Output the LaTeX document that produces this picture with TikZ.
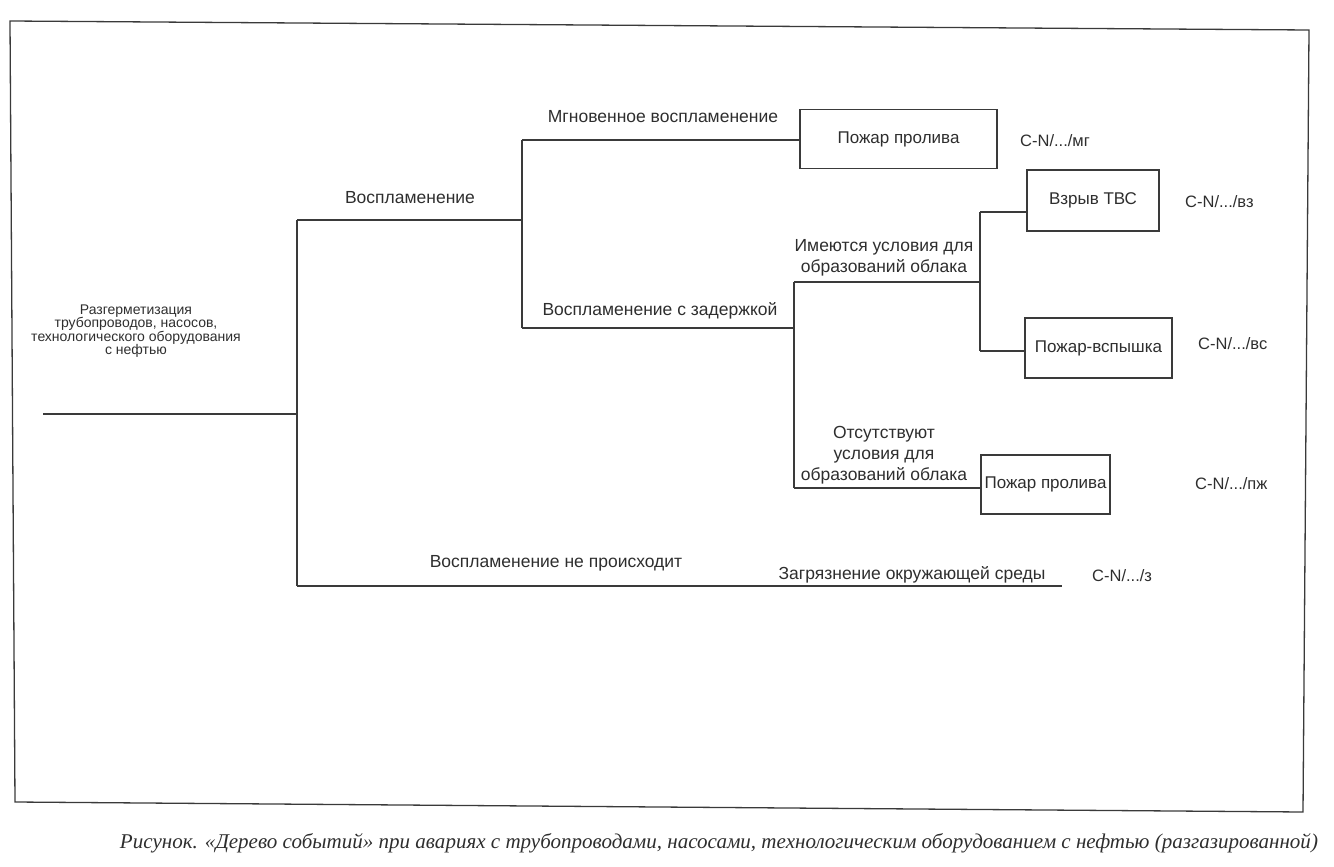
\documentclass[tikz,border=0pt]{standalone}
\usepackage{fontspec}
\setmainfont{Liberation Serif}
\newfontfamily\arialf{Liberation Sans}
\definecolor{ink}{HTML}{3A3A3A}
\definecolor{txt}{HTML}{2E2E2E}
\begin{document}
\begin{tikzpicture}[x=1pt,y=-1pt,
  line/.style={draw=ink,line width=1.2pt},
  box/.style={draw=ink,line width=1.4pt,inner sep=0pt,font=\arialf\fontsize{17}{20}\selectfont,text=txt},
  lbl/.style={inner sep=0pt,font=\arialf\fontsize{17.5}{21}\selectfont,text=txt,align=center},
  code/.style={inner sep=0pt,font=\arialf\fontsize{16.5}{19}\selectfont,text=txt,anchor=west},
  small/.style={inner sep=0pt,font=\arialf\fontsize{14}{13.5}\selectfont,text=txt,align=center}]
\useasboundingbox (0,0) rectangle (1334,867);
% frame
\draw[ink,line width=1.3pt] (10,21) -- (1309,30) -- (1303,812) -- (15,802) -- cycle;
% junction coordinates
\coordinate (r) at (43,414);
\coordinate (a) at (297,414);
\coordinate (a1) at (297,220);
\coordinate (a2) at (297,586);
\coordinate (b) at (522,220);
\coordinate (b1) at (522,140);
\coordinate (b2) at (522,328);
\coordinate (c) at (794,328);
\coordinate (c1) at (794,282);
\coordinate (c2) at (794,488);
\coordinate (d) at (980,282);
\coordinate (d1) at (980,212);
\coordinate (d2) at (980,351);
\coordinate (e) at (1062,586);
% boxes
\node[box,minimum width=197pt,minimum height=59pt] (f1) at (898.5,139) {Пожар пролива};
\node[box,minimum width=132pt,minimum height=61pt] (f2) at (1093,200.5) {Взрыв ТВС};
\node[box,minimum width=147pt,minimum height=60pt] (f3) at (1098.5,348) {Пожар-вспышка};
\node[box,minimum width=129pt,minimum height=59pt] (f4) at (1045.5,484.5) {Пожар пролива};
% connectors
\draw[line] (r) -- (a);
\draw[line] (a1) -- (a2);
\draw[line] (a1) -- (b);
\draw[line] (b1) -- (b2);
\draw[line] (b1) -- (b1 -| f1.west);
\draw[line] (b2) -- (c);
\draw[line] (c1) -- (c2);
\draw[line] (c1) -- (d);
\draw[line] (d1) -- (d2);
\draw[line] (d1) -- (d1 -| f2.west);
\draw[line] (d2) -- (d2 -| f3.west);
\draw[line] (c2) -- (c2 -| f4.west);
\draw[line] (a2) -- (e);
% labels
\node[small] (root) at (136,331) {Разгерметизация\\трубопроводов, насосов,\\технологического оборудования\\с нефтью};
\node[lbl] (l1) at (410,198) {Воспламенение};
\node[lbl] (l2) at (663,117) {Мгновенное воспламенение};
\node[lbl] (l3) at (660,311) {Воспламенение с задержкой};
\node[lbl] (l4) at (884,258) {Имеются условия для\\образований облака};
\node[lbl] (l5) at (884,455) {Отсутствуют\\условия для\\образований облака};
\node[lbl] (l6) at (556,563) {Воспламенение не происходит};
\node[lbl] (l7) at (912,575) {Загрязнение окружающей среды};
% codes
\node[code] (k1) at (1020,141) {C-N/.../мг};
\node[code] (k2) at (1185,202) {C-N/.../вз};
\node[code] (k3) at (1198,344) {C-N/.../вс};
\node[code] (k4) at (1195,484) {C-N/.../пж};
\node[code] (k5) at (1092,576) {C-N/.../з};
% caption
\node[inner sep=0pt,text=txt] (cap) at (719,843) {\resizebox{1198pt}{\height}{\itshape\fontsize{21}{24}\selectfont Рисунок. «Дерево событий» при авариях с трубопроводами, насосами, технологическим оборудованием с нефтью (разгазированной)}};
\end{tikzpicture}
\end{document}
